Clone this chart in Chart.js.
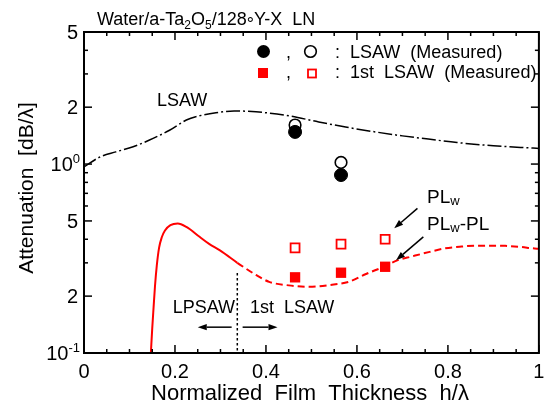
<!DOCTYPE html>
<html><head><meta charset="utf-8">
<script src="https://cdn.jsdelivr.net/npm/chart.js@4.4.1/dist/chart.umd.min.js"></script>
<style>html,body{margin:0;padding:0;background:#fff;}canvas{display:block;}</style>
</head><body>
<canvas id="c" width="547" height="403" style="width:547px;height:403px"></canvas>
<script>
// ---- data ----
const lsawX = [0, 0.035, 0.07, 0.108, 0.144, 0.188, 0.225, 0.254, 0.29, 0.33, 0.378, 0.451, 0.516, 0.575, 0.64, 0.70, 0.757, 0.82, 0.90, 0.987, 1.0];
const lsawY = [0.965, 1.09, 1.16, 1.235, 1.34, 1.51, 1.71, 1.80, 1.87, 1.91, 1.89, 1.80, 1.67, 1.57, 1.48, 1.41, 1.356, 1.30, 1.25, 1.215, 1.21];
const plSolidX = [0.147, 0.150, 0.153, 0.156, 0.160, 0.165, 0.171, 0.178, 0.190, 0.206, 0.225, 0.254, 0.275, 0.298, 0.337];
const plSolidY = [0.1, 0.135, 0.175, 0.225, 0.29, 0.36, 0.41, 0.445, 0.475, 0.485, 0.465, 0.412, 0.378, 0.350, 0.300];
const plDashX = [0.337, 0.378, 0.407, 0.45, 0.495, 0.54, 0.582, 0.62, 0.662, 0.69, 0.72, 0.76, 0.794, 0.83, 0.86, 0.9, 0.926, 0.96, 0.987, 1.0];
const plDashY = [0.300, 0.259, 0.238, 0.228, 0.224, 0.229, 0.238, 0.262, 0.288, 0.31, 0.324, 0.343, 0.358, 0.366, 0.370, 0.370, 0.369, 0.364, 0.358, 0.356];
const circX = [0.464, 0.565];
const circFilled = [1.48, 0.875];
const circOpen = [1.61, 1.02];
const sqX = [0.464, 0.565, 0.662];
const sqFilled = [0.2515, 0.266, 0.286];
const sqOpen = [0.360, 0.377, 0.400];
const xTickMajor = [0, 0.2, 0.4, 0.6, 0.8, 1];
const xTickLabels = ['0', '0.2', '0.4', '0.6', '0.8', '1'];
const xTickMinorStep = 0.05;
const yTickMajor = [0.1, 0.2, 0.5, 1, 2, 5];
const yTickLabels = [['10', '-1'], ['2'], ['5'], ['10', '0'], ['2'], ['5']];
const yTickMinor = [0.3, 0.4, 0.6, 0.7, 0.8, 0.9, 3, 4];
const boundaryX = 0.337;
const boundaryTop = 0.265;

const FF = '"Liberation Sans", Arial, Helvetica, sans-serif';
const pts = (xs, ys) => xs.map((x, i) => ({x, y: ys[i]}));

function rich(ctx, parts, x, y, align) {
  let w = 0;
  parts.forEach(p => { ctx.font = p.s + 'px ' + FF; p.w = ctx.measureText(p.t).width; w += p.w; });
  let cx = align === 'right' ? x - w : align === 'center' ? x - w / 2 : x;
  ctx.textAlign = 'left';
  ctx.textBaseline = 'alphabetic';
  parts.forEach(p => { ctx.font = p.s + 'px ' + FF; ctx.fillText(p.t, cx, y + (p.dy || 0)); cx += p.w; });
}
function arrow(ctx, x1, y1, x2, y2) {
  const a = Math.atan2(y2 - y1, x2 - x1), L = 9, W = 3.2;
  const bx = x2 - L * Math.cos(a), by = y2 - L * Math.sin(a);
  ctx.beginPath(); ctx.moveTo(x1, y1); ctx.lineTo(bx, by); ctx.lineWidth = 1.5; ctx.strokeStyle = '#000'; ctx.stroke();
  ctx.beginPath(); ctx.moveTo(x2, y2);
  ctx.lineTo(bx + W * Math.sin(a), by - W * Math.cos(a));
  ctx.lineTo(bx - W * Math.sin(a), by + W * Math.cos(a));
  ctx.closePath(); ctx.fillStyle = '#000'; ctx.fill();
}

const deco = {
  id: 'deco',
  afterDraw(chart) {
    const ctx = chart.ctx, a = chart.chartArea, xs = chart.scales.x, ys = chart.scales.y;
    ctx.save();
    ctx.fillStyle = '#000'; ctx.strokeStyle = '#000';
    // frame
    ctx.lineWidth = 2;
    ctx.strokeRect(a.left, a.top, a.right - a.left, a.bottom - a.top);
    // ticks
    ctx.lineWidth = 1.5;
    const tick = (x1, y1, x2, y2) => { ctx.beginPath(); ctx.moveTo(x1, y1); ctx.lineTo(x2, y2); ctx.stroke(); };
    for (let i = 0; i <= Math.round(1 / xTickMinorStep); i++) {
      const v = i * xTickMinorStep, px = xs.getPixelForValue(v);
      const major = xTickMajor.some(m => Math.abs(m - v) < 1e-6);
      const L = major ? 8 : 4;
      tick(px, a.bottom, px, a.bottom - L);
      tick(px, a.top, px, a.top + L);
    }
    yTickMajor.concat(yTickMinor).forEach((v, i) => {
      const py = ys.getPixelForValue(v), L = i < yTickMajor.length ? 8 : 4;
      tick(a.left, py, a.left + L, py);
      tick(a.right, py, a.right - L, py);
    });
    // tick labels
    xTickMajor.forEach((v, i) => {
      rich(ctx, [{t: xTickLabels[i], s: 20}], xs.getPixelForValue(v), a.bottom + 25, 'center');
    });
    yTickMajor.forEach((v, i) => {
      const py = ys.getPixelForValue(v), lab = yTickLabels[i];
      const parts = [{t: lab[0], s: 20}];
      if (lab[1]) parts.push({t: lab[1], s: 13, dy: -8});
      rich(ctx, parts, lab[1] ? 80 : 78, py + 7, 'right');
    });
    // axis titles
    rich(ctx, [{t: 'Normalized  Film  Thickness  h/\u03bb', s: 22}], 310, 400, 'center');
    ctx.save(); ctx.translate(33, 188); ctx.rotate(-Math.PI / 2);
    rich(ctx, [{t: 'Attenuation  [dB/\u03bb]', s: 21}], 0, 0, 'center');
    ctx.restore();
    // title
    rich(ctx, [{t: 'Water/a-Ta', s: 18}, {t: '2', s: 12, dy: 4}, {t: 'O', s: 18}, {t: '5', s: 12, dy: 4},
               {t: '/128', s: 18}, {t: '\u00b0', s: 18, dy: 5}, {t: 'Y-X  LN', s: 18}], 97, 25, 'left');
    // legend
    ctx.fillStyle = '#000';
    ctx.beginPath(); ctx.arc(263.5, 51.5, 6.5, 0, Math.PI * 2); ctx.fill();
    ctx.beginPath(); ctx.arc(310.5, 51.5, 5.8, 0, Math.PI * 2); ctx.lineWidth = 1.6; ctx.stroke();
    rich(ctx, [{t: ',', s: 18}], 286, 58, 'left');
    rich(ctx, [{t: ':', s: 18}], 335, 58, 'left');
    rich(ctx, [{t: 'LSAW  (Measured)', s: 18}], 350, 58, 'left');
    ctx.fillStyle = '#ff0000';
    ctx.fillRect(258, 68, 10, 10);
    ctx.strokeStyle = '#ff0000'; ctx.lineWidth = 1.8;
    ctx.strokeRect(308, 69.5, 8, 8);
    ctx.fillStyle = '#000'; ctx.strokeStyle = '#000';
    rich(ctx, [{t: ',', s: 18}], 286, 78, 'left');
    rich(ctx, [{t: ':', s: 18}], 335, 78, 'left');
    rich(ctx, [{t: '1st  LSAW  (Measured)', s: 18}], 350, 78, 'left');
    // annotations
    rich(ctx, [{t: 'LSAW', s: 18}], 157, 106, 'left');
    rich(ctx, [{t: 'PL', s: 19}, {t: 'w', s: 13, dy: 2}], 427, 203, 'left');
    rich(ctx, [{t: 'PL', s: 19}, {t: 'w', s: 13, dy: 2}, {t: '-PL', s: 19}], 427, 230, 'left');
    rich(ctx, [{t: 'LPSAW', s: 18}], 235, 313, 'right');
    rich(ctx, [{t: '1st  LSAW', s: 18}], 250, 313, 'left');
    const X = v => xs.getPixelForValue(v), Y = v => ys.getPixelForValue(v);
    arrow(ctx, X(0.733), Y(0.583), X(0.682), Y(0.457));
    arrow(ctx, X(0.746), Y(0.412), X(0.686), Y(0.310));
    arrow(ctx, X(0.3246), Y(0.137), X(0.25), Y(0.137));
    arrow(ctx, X(0.3487), Y(0.137), X(0.4254), Y(0.137));
    // boundary dotted line
    ctx.setLineDash([2.5, 2.5]); ctx.lineWidth = 1.5;
    ctx.beginPath(); ctx.moveTo(X(boundaryX), Y(boundaryTop)); ctx.lineTo(X(boundaryX), a.bottom); ctx.stroke();
    ctx.setLineDash([]);
    ctx.restore();
  }
};

new Chart(document.getElementById('c'), {
  type: 'scatter',
  data: {
    datasets: [
      {data: pts(circX, circFilled), pointStyle: 'circle', pointRadius: 6.5, backgroundColor: '#000', borderColor: '#000', borderWidth: 1, showLine: false},
      {data: pts(circX, circOpen), pointStyle: 'circle', pointRadius: 5.8, backgroundColor: '#fff', borderColor: '#000', borderWidth: 1.6, showLine: false},
      {data: pts(sqX, sqFilled), pointStyle: 'rect', pointRadius: 7.3, backgroundColor: '#ff0000', borderColor: '#ff0000', borderWidth: 0, showLine: false},
      {data: pts(sqX, sqOpen), pointStyle: 'rect', pointRadius: 6.3, backgroundColor: '#fff', borderColor: '#ff0000', borderWidth: 1.8, showLine: false},
      {data: pts(lsawX, lsawY), showLine: true, borderColor: '#000', borderWidth: 1.5, borderDash: [14, 3, 2, 3], pointRadius: 0, cubicInterpolationMode: 'monotone'},
      {data: pts(plSolidX, plSolidY), showLine: true, borderColor: '#ff0000', borderWidth: 2, pointRadius: 0, cubicInterpolationMode: 'monotone'},
      {data: pts(plDashX, plDashY), showLine: true, borderColor: '#ff0000', borderWidth: 2, borderDash: [7, 4], pointRadius: 0, cubicInterpolationMode: 'monotone'}
    ]
  },
  options: {
    responsive: false, animation: false, devicePixelRatio: 1,
    layout: {padding: {top: 32, right: 7, left: 0, bottom: 0}},
    plugins: {legend: {display: false}, tooltip: {enabled: false}},
    scales: {
      x: {type: 'linear', min: 0, max: 1, grid: {display: false}, border: {display: false}, ticks: {display: false},
          afterFit: s => { s.height = 50; }},
      y: {type: 'logarithmic', min: 0.1, max: 5, grid: {display: false}, border: {display: false}, ticks: {display: false},
          afterFit: s => { s.width = 84; }}
    }
  },
  plugins: [deco]
});
</script>
</body></html>
